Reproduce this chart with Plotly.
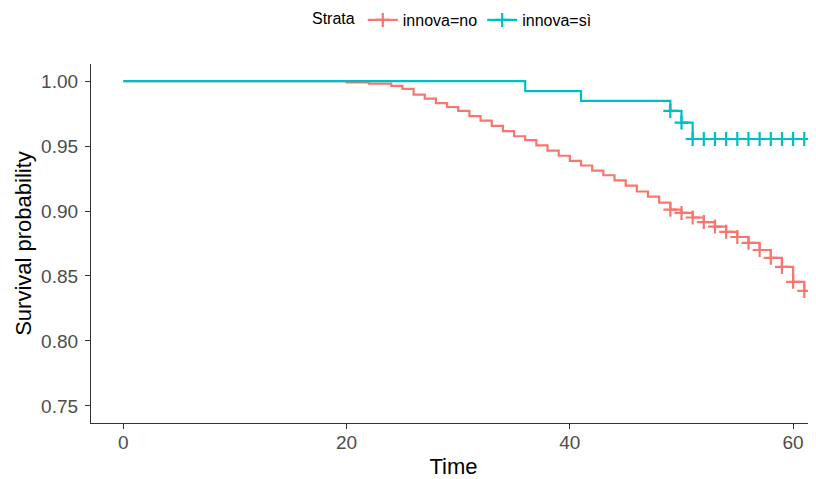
import plotly.graph_objects as go

# ---- data ----
no_times = [0, 20, 22, 24, 25, 26, 27, 28, 29, 30, 31, 32, 33, 34, 35, 36, 37, 38, 39, 40,
            41, 42, 43, 44, 45, 46, 47, 48, 49, 50, 51, 52, 53, 54, 55, 56, 57, 58, 59, 60, 61]
no_surv = [1.0, 0.9990, 0.9980, 0.9962, 0.9940, 0.9895, 0.9865, 0.9830, 0.9800, 0.9770,
           0.9730, 0.9695, 0.9655, 0.9615, 0.9575, 0.9545, 0.9505, 0.9465, 0.9425, 0.9385,
           0.9350, 0.9310, 0.9275, 0.9235, 0.9195, 0.9150, 0.9110, 0.9065, 0.9010, 0.8985,
           0.8950, 0.8915, 0.8880, 0.8840, 0.8800, 0.8755, 0.8700, 0.8640, 0.8570, 0.8455, 0.8385]
no_cens_times = [49, 50, 51, 52, 53, 54, 55, 56, 57, 58, 59, 60, 61]

si_times = [0, 36, 41, 49, 50, 51, 61]
si_surv = [1.0, 0.9923, 0.9848, 0.9770, 0.9680, 0.9554, 0.9554]
si_cens_times = [49, 50, 51, 52, 53, 54, 55, 56, 57, 58, 59, 60, 61]

x_ticks = [0, 20, 40, 60]
y_ticks = [0.75, 0.80, 0.85, 0.90, 0.95, 1.00]

strata = ["innova=no", "innova=sì"]
colors = ["#F8766D", "#00BFC4"]


def surv_at(times, surv, t):
    s = surv[0]
    for tt, ss in zip(times, surv):
        if tt <= t:
            s = ss
    return s


FONT = "Arial, Liberation Sans, sans-serif"

fig = go.Figure()
series = [(no_times, no_surv, no_cens_times), (si_times, si_surv, si_cens_times)]
for (tms, sv, ct), name, col in zip(series, strata, colors):
    fig.add_trace(go.Scatter(x=tms, y=sv, mode="lines", line=dict(color=col, width=2.2, shape="hv"),
                             showlegend=False, hoverinfo="skip"))
    fig.add_trace(go.Scatter(x=ct, y=[surv_at(tms, sv, t) for t in ct], mode="markers",
                             marker=dict(symbol="cross-thin", size=10, line=dict(color=col, width=2.2)),
                             showlegend=False))
    # legend entry
    fig.add_trace(go.Scatter(x=[None], y=[None], mode="lines+markers", name=name,
                             line=dict(color=col, width=2.2),
                             marker=dict(symbol="cross-thin", size=10, line=dict(color=col, width=2.2))))

axis_common = dict(showgrid=False, zeroline=False, showline=True, linecolor="#333333", linewidth=1.2,
                   ticks="outside", ticklen=5, tickcolor="#333333", tickwidth=1.2, automargin=True)

# the page has an 8px body margin, so the figure is sized 8px smaller
fig.update_layout(
    width=808, height=471,
    margin=dict(l=83, r=0, t=56, b=56, autoexpand=False),
    plot_bgcolor="white", paper_bgcolor="white",
    font=dict(family=FONT, color="black"),
    xaxis=dict(range=[-2.9, 62.05], tickvals=x_ticks, ticktext=[str(v) for v in x_ticks],
               tickfont=dict(family=FONT, size=19, color="#4D4D4D"), ticklabelstandoff=-3,
               title=dict(text="Time", font=dict(size=22, color="black"), standoff=6), **axis_common),
    yaxis=dict(range=[0.7369, 1.0131], tickvals=y_ticks, ticktext=["%.2f" % v for v in y_ticks],
               tickfont=dict(family=FONT, size=19, color="#4D4D4D"), ticklabelstandoff=3,
               title=dict(text="Survival probability", font=dict(size=22, color="black"), standoff=3),
               **axis_common),
    legend=dict(orientation="h", x=0.5, xanchor="center", y=1.1226, yanchor="middle",
                font=dict(size=16, color="black"),
                title=dict(text="Strata", font=dict(size=16, color="black"))),
)

fig.write_html("out.html")
